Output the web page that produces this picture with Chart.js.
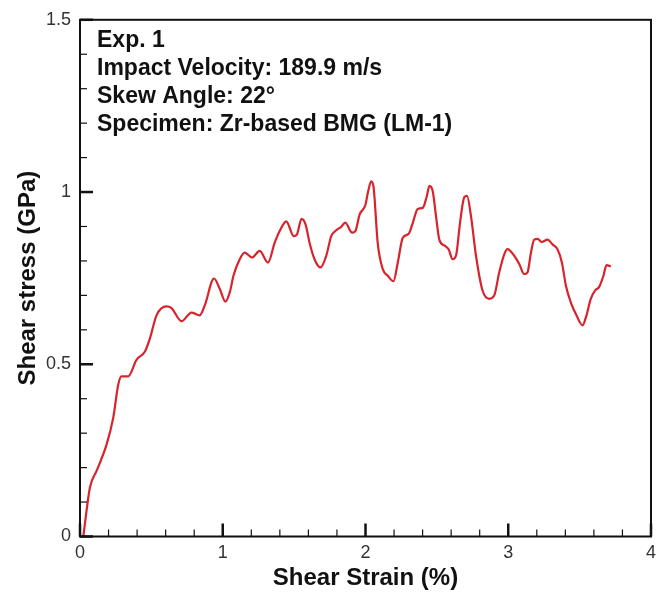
<!DOCTYPE html>
<html lang="en">
<head>
    <meta charset="UTF-8">
    <title>Shear stress vs shear strain</title>
    <script src="https://cdn.jsdelivr.net/npm/chart.js"></script>
    <style>
        body {
            margin: 0;
            padding: 0;
            background: #ffffff;
        }
        #chart {
            display: block;
        }
    </style>
</head>
<body>
    <canvas id="chart" width="662" height="595"></canvas>

    <script>
        // Shear strain (%) and shear stress (GPa)
        const strain = [
            0.023, 0.07, 0.117, 0.187, 0.233, 0.268, 0.29, 0.338, 0.396, 0.455,
            0.49, 0.536, 0.606, 0.641, 0.711, 0.781, 0.839, 0.874, 0.939, 0.979,
            1.019, 1.05, 1.075, 1.119, 1.154, 1.205, 1.259, 1.317, 1.364, 1.399,
            1.445, 1.497, 1.52, 1.552, 1.58, 1.608, 1.643, 1.685, 1.725, 1.76,
            1.795, 1.83, 1.858, 1.907, 1.93, 1.958, 2.0, 2.016, 2.04, 2.056,
            2.086, 2.121, 2.156, 2.196, 2.226, 2.261, 2.303, 2.331, 2.366, 2.401,
            2.429, 2.448, 2.471, 2.494, 2.517, 2.552, 2.582, 2.61, 2.634, 2.662,
            2.692, 2.711, 2.739, 2.774, 2.82, 2.867, 2.902, 2.937, 2.972, 2.995,
            3.042, 3.077, 3.112, 3.135, 3.159, 3.182, 3.205, 3.236, 3.275, 3.31,
            3.345, 3.376, 3.404, 3.438, 3.478, 3.52, 3.548, 3.578, 3.608, 3.636,
            3.667, 3.688, 3.718
        ];
        const stress = [
            0.0, 0.143, 0.191, 0.268, 0.345, 0.441, 0.465, 0.465, 0.513, 0.537,
            0.575, 0.642, 0.668, 0.663, 0.625, 0.65, 0.642, 0.671, 0.749, 0.719,
            0.682, 0.71, 0.757, 0.805, 0.824, 0.81, 0.829, 0.795, 0.853, 0.887,
            0.915, 0.872, 0.877, 0.922, 0.906, 0.853, 0.805, 0.781, 0.815, 0.872,
            0.889, 0.899, 0.911, 0.882, 0.887, 0.934, 0.963, 0.997, 1.031, 1.016,
            0.85, 0.776, 0.757, 0.741, 0.795, 0.867, 0.879, 0.91, 0.951, 0.954,
            0.987, 1.018, 1.002, 0.93, 0.862, 0.845, 0.834, 0.805, 0.815, 0.91,
            0.985, 0.989, 0.93, 0.815, 0.714, 0.69, 0.7, 0.767, 0.819, 0.834,
            0.815, 0.791, 0.762, 0.767, 0.824, 0.862, 0.864, 0.855, 0.862, 0.848,
            0.834, 0.795, 0.728, 0.68, 0.642, 0.613, 0.642, 0.69, 0.714, 0.724,
            0.757, 0.788, 0.784
        ];

        const xRange = [0, 4];
        const yRange = [0, 1.5];
        const noteLines = [
            'Exp. 1',
            'Impact Velocity: 189.9 m/s',
            'Skew Angle: 22\u00B0',
            'Specimen: Zr-based BMG (LM-1)'
        ];

        const fontFamily = "'Liberation Sans', Arial, sans-serif";
        const axisColor = '#111';

        // frame, inward ticks and the text block
        const framePlugin = {
            id: 'frame',
            afterDraw(chart) {
                const ctx = chart.ctx;
                const area = chart.chartArea;
                const xs = chart.scales.x;
                const ys = chart.scales.y;
                ctx.save();
                ctx.strokeStyle = axisColor;
                ctx.lineWidth = 2;
                ctx.strokeRect(area.left, area.top, area.right - area.left, area.bottom - area.top);

                // x ticks every 0.2, major every 1
                for (let i = 0; i <= 20; i++) {
                    const px = xs.getPixelForValue(i * 0.2);
                    const len = (i % 5 === 0) ? 13 : 7;
                    ctx.lineWidth = (i % 5 === 0) ? 2.5 : 1.2;
                    ctx.beginPath();
                    ctx.moveTo(px, area.bottom);
                    ctx.lineTo(px, area.bottom - len);
                    ctx.stroke();
                }
                // y ticks every 0.1, major every 0.5
                for (let i = 0; i <= 15; i++) {
                    const py = ys.getPixelForValue(i * 0.1);
                    const len = (i % 5 === 0) ? 13 : 7;
                    ctx.lineWidth = (i % 5 === 0) ? 2.5 : 1.2;
                    ctx.beginPath();
                    ctx.moveTo(area.left, py);
                    ctx.lineTo(area.left + len, py);
                    ctx.stroke();
                }

                ctx.fillStyle = '#111';
                ctx.font = 'bold 23px ' + fontFamily;
                ctx.textBaseline = 'middle';
                ctx.textAlign = 'left';
                noteLines.forEach((line, i) => {
                    ctx.fillText(line, area.left + 17, area.top + 21 + i * 28);
                });
                ctx.restore();
            }
        };

        const ctx = document.getElementById('chart').getContext('2d');
        new Chart(ctx, {
            type: 'line',
            data: {
                datasets: [{
                    label: 'Shear stress',
                    data: strain.map((x, i) => ({ x: x, y: stress[i] })),
                    borderColor: '#d9232b',
                    borderWidth: 2.2,
                    pointRadius: 0,
                    fill: false,
                    cubicInterpolationMode: 'monotone'
                }]
            },
            options: {
                responsive: false,
                animation: false,
                layout: {
                    padding: { top: 15, right: 10, left: 0, bottom: 0 }
                },
                plugins: {
                    legend: { display: false },
                    tooltip: { enabled: false }
                },
                scales: {
                    x: {
                        type: 'linear',
                        min: xRange[0],
                        max: xRange[1],
                        grid: { display: false, drawTicks: false },
                        border: { display: false },
                        ticks: {
                            stepSize: 1,
                            padding: 6,
                            color: '#333',
                            font: { family: fontFamily, size: 18 },
                            callback: (v) => String(v)
                        },
                        title: {
                            display: true,
                            text: 'Shear Strain (%)',
                            color: '#111',
                            font: { family: fontFamily, size: 24, weight: 'bold' },
                            padding: { top: 0, bottom: 2 }
                        },
                        afterFit(scale) { scale.height = 58.5; }
                    },
                    y: {
                        type: 'linear',
                        min: yRange[0],
                        max: yRange[1],
                        grid: { display: false, drawTicks: false },
                        border: { display: false },
                        ticks: {
                            stepSize: 0.5,
                            padding: 9,
                            color: '#333',
                            font: { family: fontFamily, size: 18 },
                            callback: (v) => String(v)
                        },
                        title: {
                            display: true,
                            text: 'Shear stress (GPa)',
                            color: '#111',
                            font: { family: fontFamily, size: 24, weight: 'bold' },
                            padding: { top: 14, bottom: 0 }
                        },
                        afterFit(scale) { scale.width = 80; }
                    }
                }
            },
            plugins: [framePlugin]
        });
    </script>
</body>
</html>
